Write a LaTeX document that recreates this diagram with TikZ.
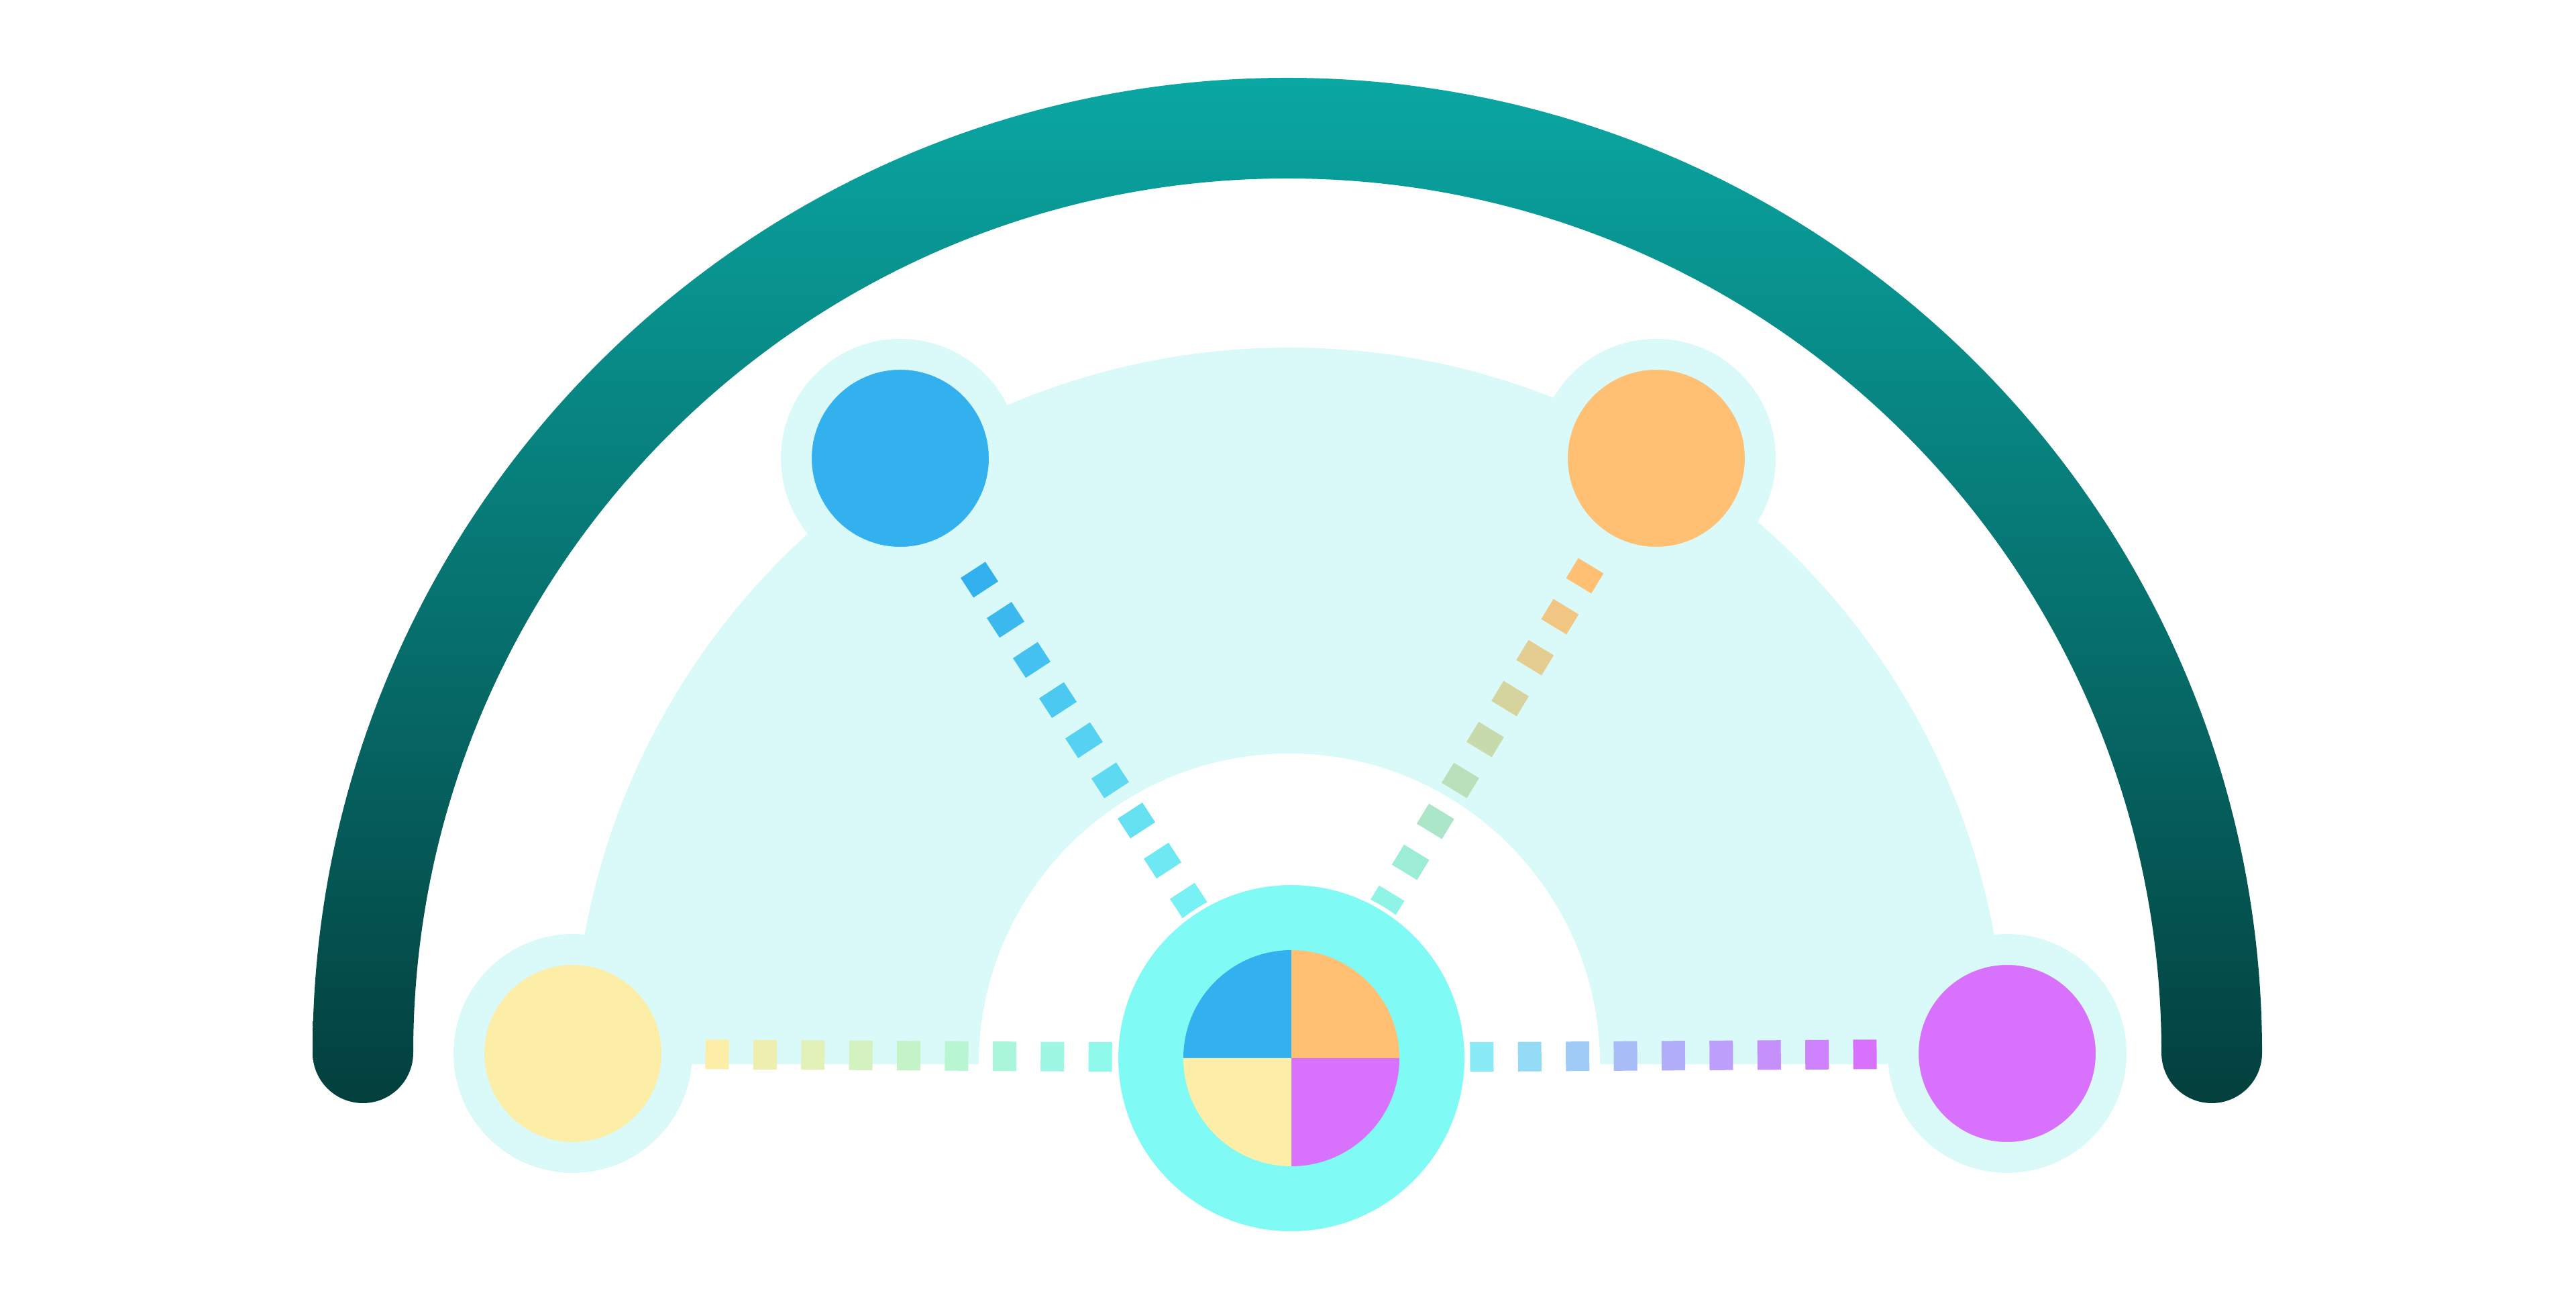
\documentclass[tikz,border=0pt]{standalone}
\usepackage{tikz}
\usetikzlibrary{calc}
\definecolor{archtop}{HTML}{0AA7A3}
\definecolor{archbot}{HTML}{033F3D}
\definecolor{halo}{HTML}{DAFAF9}
\definecolor{hubc}{HTML}{80FAF4}
\definecolor{nblue}{HTML}{33B1EF}
\definecolor{norange}{HTML}{FFC074}
\definecolor{nyellow}{HTML}{FCEEA6}
\definecolor{npurple}{HTML}{D872FD}
\pgfdeclarelayer{back}
\pgfsetlayers{back,main}
\tikzset{satellite/.style={circle,minimum size=3.1cm,inner sep=0pt,line width=0.46cm,draw=halo}}

\begin{document}
\begin{tikzpicture}
    \useasboundingbox (0,0) rectangle (38.4,19.2);
    \node [circle,minimum size=5.22cm,inner sep=0pt,fill=hubc,draw=white,line width=0.06cm] (hub) at (19.25,3.43) {};
    \node [satellite,fill=nblue] (blue) at (13.42,12.37) {};
    \node [satellite,fill=norange] (orange) at (24.69,12.37) {};
    \node [satellite,fill=nyellow] (yellow) at (8.54,3.50) {};
    \node [satellite,fill=npurple] (purple) at (29.92,3.50) {};
    % pie in the hub
    \fill [nblue] (hub.center) -- ++(180:1.61) arc (180:90:1.61) -- cycle;
    \fill [norange] (hub.center) -- ++(90:1.61) arc (90:0:1.61) -- cycle;
    \fill [npurple] (hub.center) -- ++(0:1.61) arc (0:-90:1.61) -- cycle;
    \fill [nyellow] (hub.center) -- ++(-90:1.61) arc (-90:-180:1.61) -- cycle;
    \begin{pgfonlayer}{back}
      \coordinate (o) at (19.19,3.51);
      \shade [top color=archtop,bottom color=archbot] ($(o)+(180:14.53)$) arc (180:0:14.53)
        arc (0:-180:0.75) arc (0:180:13.03) arc (0:-180:0.75) -- cycle;
      \coordinate (s) at (19.22,3.34);
      \fill [halo] ($(s)+(180:10.68)$) arc (180:0:10.68) -- ($(s)+(0:4.63)$) arc (0:180:4.63) -- cycle;
      % dashed spokes, colour running to the hub
      \foreach \n/\col/\st in {blue/nblue/2.16,orange/norange/2.05,yellow/nyellow/2.15,purple/npurple/2.12}
        \foreach \i in {0,...,8} {
          \pgfmathsetmacro\da{\st+0.714*\i-0.175}
          \pgfmathsetmacro\db{\st+0.714*\i+0.175}
          \pgfmathtruncatemacro\p{100*\i/9}
          \draw [line width=0.44cm,hubc!\p!\col] ($(\n)!\da cm!(hub)$) -- ($(\n)!\db cm!(hub)$);
        }
    \end{pgfonlayer}
  \end{tikzpicture}
\end{document}
